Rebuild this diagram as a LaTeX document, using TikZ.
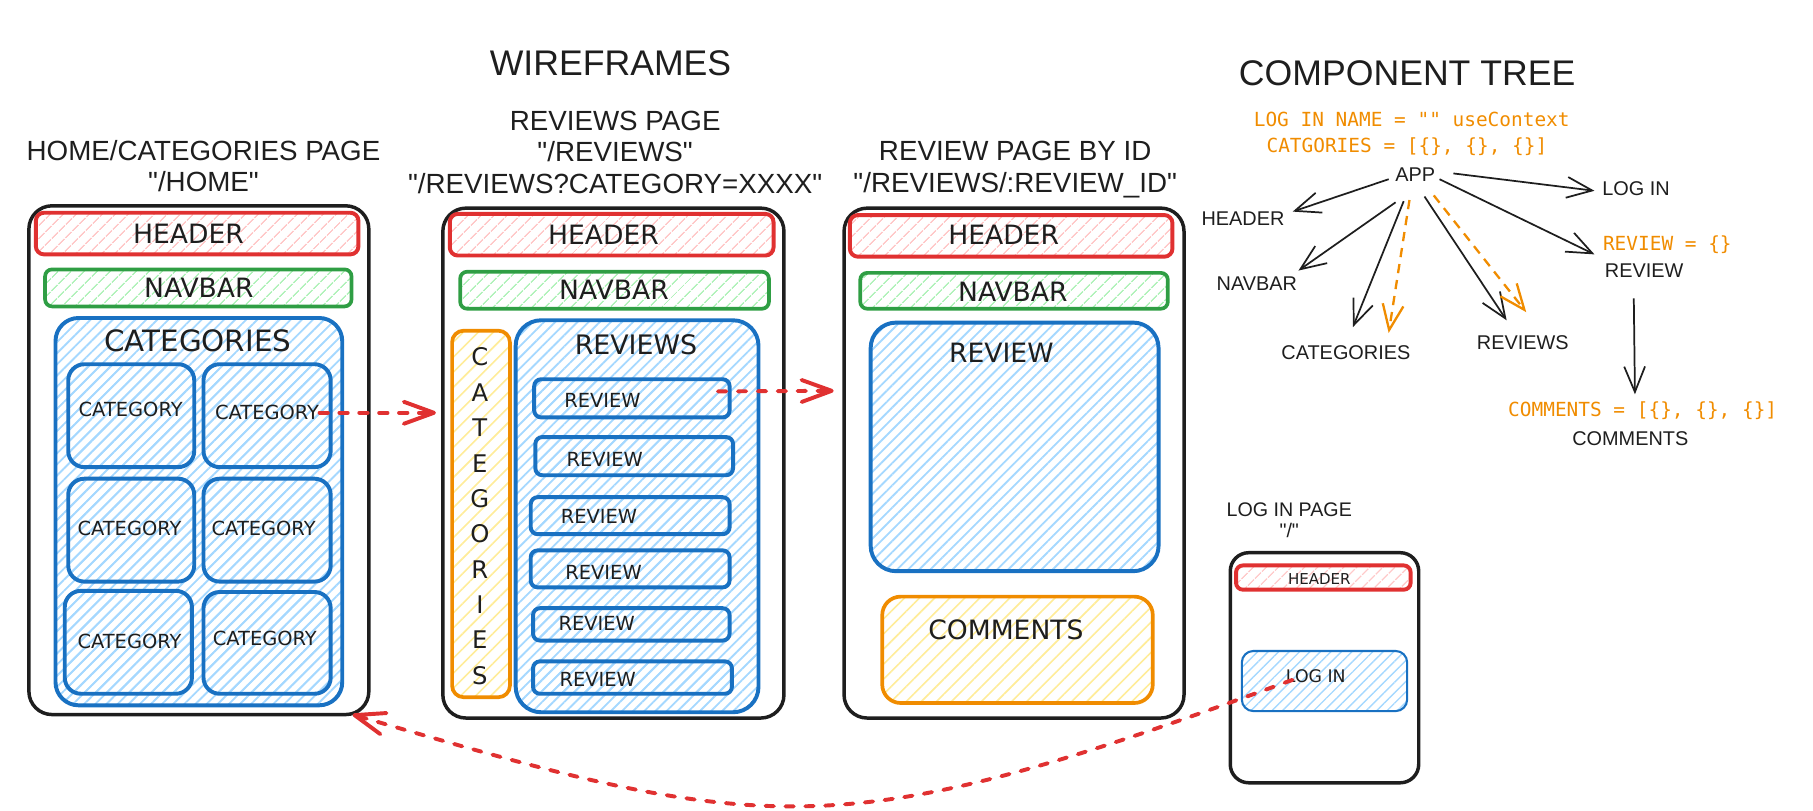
\documentclass[tikz,border=0pt]{standalone}
\usepackage{fontspec}
\setmainfont{Liberation Sans}[Ligatures=TeXOff]
\newfontfamily\handfont{DejaVu Sans}
\newfontfamily\codefont{DejaVu Sans Mono}[Ligatures=TeXOff]
\usetikzlibrary{patterns.meta,fit,arrows.meta}

\definecolor{ink}{HTML}{1E1E1E}
\definecolor{exred}{HTML}{E03131}
\definecolor{exgreen}{HTML}{2F9E44}
\definecolor{exblue}{HTML}{1971C2}
\definecolor{exorange}{HTML}{F08C00}
\definecolor{hred}{HTML}{FFC9C9}
\definecolor{hgreen}{HTML}{B2F2BB}
\definecolor{hblue}{HTML}{A5D8FF}
\definecolor{hyellow}{HTML}{FFEC99}

\newcommand\setfs[1]{\fontsize{#1}{#1}\selectfont}
% a box spanning two opposite corners
\newcommand\wfbox[4]{\node[#2, fit={#3 #4}] (#1) {};}

\tikzset{
  fitbox/.style={inner sep=0pt, outer sep=0pt},
  pageframe/.style={fitbox, draw=ink, line width=1.5pt, rounded corners=#1},
  pageframe/.default=10pt,
  hdr/.style={fitbox, draw=exred, line width=1.7pt, rounded corners=#1,
    pattern={Lines[angle=45,distance=4pt,line width=0.65pt]}, pattern color=hred},
  hdr/.default=3.5pt,
  nav/.style={fitbox, draw=exgreen, line width=1.6pt, rounded corners=3pt,
    pattern={Lines[angle=45,distance=4pt,line width=0.65pt]}, pattern color=hgreen},
  bluebox/.style={fitbox, draw=exblue, line width=1.7pt, rounded corners=#1,
    pattern={Lines[angle=45,distance=3.4pt,line width=0.8pt]}, pattern color=hblue},
  bluebox/.default=7pt,
  yelbox/.style={fitbox, draw=exorange, line width=1.6pt, rounded corners=#1,
    pattern={Lines[angle=45,distance=4.6pt,line width=0.7pt]}, pattern color=hyellow},
  yelbox/.default=5pt,
  handL/.style={text=ink, inner sep=0pt, font=\handfont\setfs{11.5}},
  handS/.style={text=ink, inner sep=0pt, font=\handfont\setfs{8.4}},
  title/.style={text=ink, inner sep=0pt, font=\setfs{15.4}},
  pagetitle/.style={text=ink, inner sep=0pt, align=center, font=\fontsize{12}{13.6}\selectfont},
  tree/.style={text=ink, inner sep=0pt, font=\setfs{8.6}},
  code/.style={text=exorange, inner sep=0pt, anchor=west, font=\codefont\setfs{8.4}},
  treearrow/.style={draw=ink, line width=0.75pt, -{Straight Barb[length=11pt,width=9pt]}},
  treedash/.style={draw=exorange, line width=1pt, dash pattern=on 4pt off 3pt,
    -{Straight Barb[length=11pt,width=9pt]}},
  linkarrow/.style={draw=exred, line width=1.7pt, line cap=round,
    dash pattern=on 3.6pt off 5pt,
    -{Straight Barb[length=13pt,width=9.5pt,round]}},
}

\begin{document}
\begin{tikzpicture}[x=0.5pt,y=-0.5pt]
\useasboundingbox (0,0) rectangle (1568,701);

% ---------- headings ----------
\node[title] (wireframes) at (528,55) {WIREFRAMES};
\node[title] (comptree) at (1217,63) {COMPONENT TREE};
\node[pagetitle] (ttlHome) at (176,143.5) {HOME/CATEGORIES PAGE\\"/HOME"};
\node[pagetitle] (ttlRevs) at (532,131.5) {REVIEWS PAGE\\"/REVIEWS"\\"/REVIEWS?CATEGORY=XXXX"};
\node[pagetitle] (ttlRev) at (878,146.5) {REVIEW PAGE BY ID\\"/REVIEWS/:REVIEW\_ID"};
\node[tree, align=center, font=\fontsize{8.5}{9}\selectfont] (ttlLogin) at (1115,450) {LOG IN PAGE\\"/"};

% ---------- home / categories page ----------
\wfbox{home}{pageframe}{(25,178)}{(319,618)}
\wfbox{hHead}{hdr}{(31,184)}{(310,220)}
\wfbox{hNav}{nav}{(39,233)}{(304,265)}
\wfbox{hCats}{bluebox=10pt}{(48,275)}{(296,610)}
\wfbox{hCat1}{bluebox}{(59,315)}{(168,404)}
\wfbox{hCat2}{bluebox}{(176,315)}{(286,404)}
\wfbox{hCat3}{bluebox}{(59,414)}{(168,503)}
\wfbox{hCat4}{bluebox}{(176,414)}{(286,503)}
\wfbox{hCat5}{bluebox}{(56,511)}{(166,600)}
\wfbox{hCat6}{bluebox}{(176,512)}{(286,600)}
\node[handL] (hHeadL) at (163,202) {HEADER};
\node[handL] (hNavL) at (172,249) {NAVBAR};
\node[handL, font=\handfont\setfs{12.7}] (hCatsL) at (171,295) {CATEGORIES};
\node[handS] (hCat1L) at (113,354) {CATEGORY};
\node[handS] (hCat2L) at (231,357) {CATEGORY};
\node[handS] (hCat3L) at (112,457) {CATEGORY};
\node[handS] (hCat4L) at (228,457) {CATEGORY};
\node[handS] (hCat5L) at (112,555) {CATEGORY};
\node[handS] (hCat6L) at (229,552) {CATEGORY};

% ---------- reviews page ----------
\wfbox{revs}{pageframe}{(383,180)}{(678,621)}
\wfbox{rHead}{hdr}{(389,185)}{(669,221)}
\wfbox{rNav}{nav}{(398,235)}{(665,267)}
\wfbox{rCats}{yelbox}{(391,286)}{(441,603)}
\wfbox{rList}{bluebox=11pt}{(446,277)}{(656,616)}
\wfbox{rItem1}{bluebox=3pt}{(462,328)}{(631,361)}
\wfbox{rItem2}{bluebox=3pt}{(463,378)}{(634,411)}
\wfbox{rItem3}{bluebox=3pt}{(459,430)}{(631,462)}
\wfbox{rItem4}{bluebox=3pt}{(459,476)}{(631,508)}
\wfbox{rItem5}{bluebox=3pt}{(461,526)}{(631,554)}
\wfbox{rItem6}{bluebox=3pt}{(461,572)}{(633,600)}
\node[handL] (rHeadL) at (522,203) {HEADER};
\node[handL] (rNavL) at (531,251) {NAVBAR};
\node[handL, font=\handfont\setfs{11.6}] (rListL) at (550,298) {REVIEWS};
\node[handS] (rItem1L) at (521,346) {REVIEW};
\node[handS] (rItem2L) at (523,397) {REVIEW};
\node[handS] (rItem3L) at (518,447) {REVIEW};
\node[handS] (rItem4L) at (522,495) {REVIEW};
\node[handS] (rItem5L) at (516,539) {REVIEW};
\node[handS] (rItem6L) at (517,588) {REVIEW};
\node[text=ink, inner sep=0pt, align=center, font=\handfont\fontsize{10.5}{15.3}\selectfont]
  (rCatsL) at (415,446.5) {C\\A\\T\\E\\G\\O\\R\\I\\E\\S};

% ---------- review page by id ----------
\wfbox{rev}{pageframe}{(730,180)}{(1024,621)}
\wfbox{vHead}{hdr}{(735,186)}{(1014,222)}
\wfbox{vNav}{nav}{(744,236)}{(1010,267)}
\wfbox{vBody}{bluebox=11pt}{(753,279)}{(1002,494)}
\wfbox{vComm}{yelbox=8pt}{(763,516)}{(997,608)}
\node[handL] (vHeadL) at (868,203) {HEADER};
\node[handL] (vNavL) at (876,252) {NAVBAR};
\node[handL] (vBodyL) at (866,305) {REVIEW};
\node[handL] (vCommL) at (870,545) {COMMENTS};

% ---------- log in page ----------
\wfbox{login}{pageframe=8pt}{(1064,478)}{(1227,677)}
\wfbox{lHead}{hdr=3pt}{(1069,489)}{(1220,510)}
\node[fitbox, draw=exblue, line width=0.9pt, rounded corners=5pt,
  pattern={Lines[angle=45,distance=3.2pt,line width=0.6pt]}, pattern color=hblue,
  fit={(1074,563) (1217,615)}] (lForm) {};
\node[text=ink, inner sep=0pt, font=\handfont\setfs{6.5}] (lHeadL) at (1141,501) {HEADER};
\node[text=ink, inner sep=0pt, font=\handfont\setfs{7.5}] (lFormL) at (1138,585) {LOG IN};

% ---------- navigation links ----------
\coordinate (toRevs) at (377,355);
\coordinate (toRev) at (721,338);
\draw[linkarrow] (hCat2L.east) -- (hCat2L.east -| toRevs);
\draw[linkarrow] ([shift={(-10,-6)}]rItem1.east) -- (toRev);
\draw[linkarrow] ([shift={(6,3)}]lFormL.west) .. controls (724,733) and (666,724) .. ([xshift=-7]home.south east);

% ---------- component tree ----------
\node[code] (ctxName) at (1084,103) {LOG IN NAME = "" useContext};
\node[code] (ctxCats) at (1095,127) {CATGORIES = [\{\}, \{\}, \{\}]};
\node[tree] (app) at (1224,151) {APP};
\node[tree] (tLogIn) at (1415,163) {LOG IN};
\node[tree] (tHeader) at (1075,189) {HEADER};
\node[tree] (tNavbar) at (1087,245) {NAVBAR};
\node[tree] (tCats) at (1164,305) {CATEGORIES};
\node[tree] (tRevs) at (1317,296) {REVIEWS};
\node[code] (stReview) at (1386,212) {REVIEW = \{\}};
\node[tree] (tReview) at (1422,234) {REVIEW};
\node[code] (stComments) at (1304,355) {COMMENTS = [\{\}, \{\}, \{\}]};
\node[tree] (tComments) at (1410,379) {COMMENTS};

\draw[treearrow] ([shift={(-23,4)}]app.center) -- ([shift={(43,-6)}]tHeader.center);
\draw[treearrow] ([shift={(-17,24)}]app.center) -- ([shift={(36,-11)}]tNavbar.center);
\draw[treearrow] ([shift={(-10,23)}]app.center) -- ([shift={(6,-22)}]tCats.center);
\draw[treedash]  ([shift={(-5,22)}]app.center) -- ([shift={(37,-17)}]tCats.center);
\draw[treearrow] ([shift={(8,19)}]app.center) -- ([shift={(-14,-19)}]tRevs.center);
\draw[treedash]  ([shift={(16,18)}]app.center) -- ([shift={(3,-26)}]tRevs.center);
\draw[treearrow] ([shift={(33,-1)}]app.center) -- ([shift={(-36,2)}]tLogIn.center);
\draw[treearrow] ([shift={(21,4)}]app.center) -- ([shift={(-43,-14)}]tReview.center);
\draw[treearrow] ([shift={(-9,24)}]tReview.center) -- ([shift={(4,-38)}]tComments.center);
\end{tikzpicture}
\end{document}
